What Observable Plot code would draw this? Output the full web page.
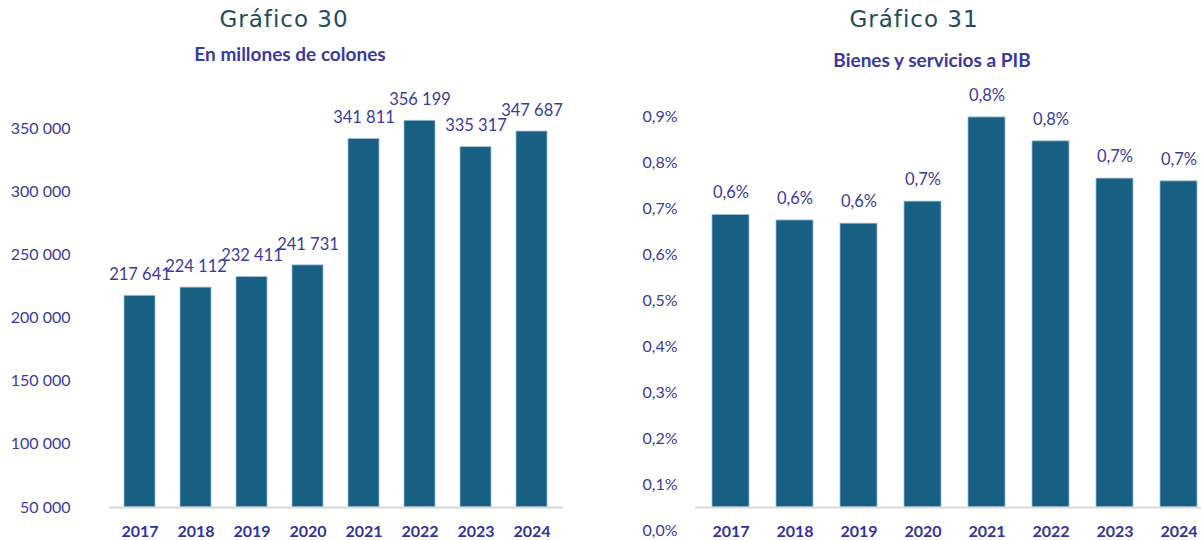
<!DOCTYPE html>
<html>
<head>
<meta charset="utf-8">
<script src="https://cdn.jsdelivr.net/npm/d3@7"></script>
<script src="https://cdn.jsdelivr.net/npm/@observablehq/plot@0.6"></script>
<style>
  html, body { margin: 0; padding: 0; background: #fff; overflow: hidden; }
  #root { position: relative; width: 1201px; height: 540px; overflow: hidden; }
  .panel { position: absolute; top: 0; height: 540px; }
  .title { position: absolute; text-align: center; font-family: "DejaVu Sans", sans-serif; font-size: 23px; color: #1d4e5c; line-height: 1; letter-spacing: 1px; }
  .subtitle { position: absolute; text-align: center; font-family: Lato, sans-serif; font-weight: bold; font-size: 19px; color: #3a3a9c; line-height: 1; }
  .panel svg { position: absolute; left: 0; top: 0; overflow: visible; }
</style>
</head>
<body>
<div id="root">
  <div class="panel" id="left" style="left:0;width:600px"></div>
  <div class="panel" id="right" style="left:600px;width:601px"></div>
</div>
<script>
const years = ["2017", "2018", "2019", "2020", "2021", "2022", "2023", "2024"];
const colones = [217641, 224112, 232411, 241731, 341811, 356199, 335317, 347687];
const pibShare = [0.636, 0.624, 0.617, 0.665, 0.848, 0.796, 0.715, 0.709];
const leftTicks = [50000, 100000, 150000, 200000, 250000, 300000, 350000];
const rightTicks = [0, 0.1, 0.2, 0.3, 0.4, 0.5, 0.6, 0.7, 0.8, 0.9];
const titles = ["Gráfico 30", "Gráfico 31"];
const subtitles = ["En millones de colones", "Bienes y servicios a PIB"];

const barColor = "#176083";
const textColor = "#3b3b9b";
const yearColor = "#33339a";
const fmtSpace = d3.formatLocale({decimal: ",", thousands: " ", grouping: [3], currency: ["", ""]}).format(",");
const fmtPct = d => d.toFixed(1).replace(".", ",") + "%";

const leftData = years.map((y, i) => ({year: y, value: colones[i]}));
const rightData = years.map((y, i) => ({year: y, value: pibShare[i]}));

function addTitles(el, i, titleCenter, titleTop, subCenter, subTop) {
  const t = document.createElement("div");
  t.className = "title";
  t.textContent = titles[i];
  t.style.left = (titleCenter - 200) + "px"; t.style.width = "400px"; t.style.top = titleTop + "px";
  el.appendChild(t);
  const s = document.createElement("div");
  s.className = "subtitle";
  s.textContent = subtitles[i];
  s.style.left = (subCenter - 200) + "px"; s.style.width = "400px"; s.style.top = subTop + "px";
  el.appendChild(s);
}

const leftEl = document.getElementById("left");
const leftPlot = Plot.plot({
  width: 600, height: 540,
  marginLeft: 109, marginRight: 37, marginTop: 65, marginBottom: 33,
  style: {fontFamily: "Lato, sans-serif", background: "transparent"},
  x: {type: "band", domain: years, paddingInner: 0.44, paddingOuter: 0.22, label: null},
  y: {domain: [50000, 400000], label: null},
  marks: [
    Plot.barY(leftData, {x: "year", y1: 50000, y2: "value", fill: barColor, stroke: "#9fbfd0", strokeWidth: 0.8}),
    Plot.ruleY([50000], {stroke: "#d9d9d9", strokeWidth: 2}),
    Plot.text(leftData, {x: "year", y: "value", text: d => fmtSpace(d.value), dy: -21, fill: textColor, fontSize: 16.5}),
    Plot.axisY({ticks: leftTicks, tickSize: 0, tickPadding: 39, tickFormat: fmtSpace, fontSize: 16, color: textColor, label: null}),
    Plot.axisX({tickSize: 0, tickPadding: 18, fontSize: 16, fontWeight: "bold", color: yearColor, label: null})
  ]
});
leftEl.appendChild(leftPlot);
addTitles(leftEl, 0, 284, 8, 290, 44);

const rightEl = document.getElementById("right");
const rightPlot = Plot.plot({
  width: 601, height: 540,
  marginLeft: 95, marginRight: 0, marginTop: 47, marginBottom: 33,
  style: {fontFamily: "Lato, sans-serif", background: "transparent"},
  x: {type: "band", domain: years, paddingInner: 0.426, paddingOuter: 0.1355, align: 0.786, label: null},
  y: {domain: [0, 1.0], label: null},
  marks: [
    Plot.barY(rightData, {x: "year", y: "value", fill: barColor, stroke: "#9fbfd0", strokeWidth: 0.8}),
    Plot.ruleY([0], {stroke: "#d9d9d9", strokeWidth: 2}),
    Plot.text(rightData, {x: "year", y: "value", text: d => fmtPct(d.value), dy: -22, fill: textColor, fontSize: 16.5}),
    Plot.axisY({ticks: rightTicks, tickSize: 0, tickPadding: 18, dy: 23, tickFormat: fmtPct, fontSize: 16, color: textColor, label: null}),
    Plot.axisX({tickSize: 0, tickPadding: 18, fontSize: 16, fontWeight: "bold", color: yearColor, label: null})
  ]
});
rightEl.appendChild(rightPlot);
addTitles(rightEl, 1, 314, 8, 332, 50);
</script>
</body>
</html>
